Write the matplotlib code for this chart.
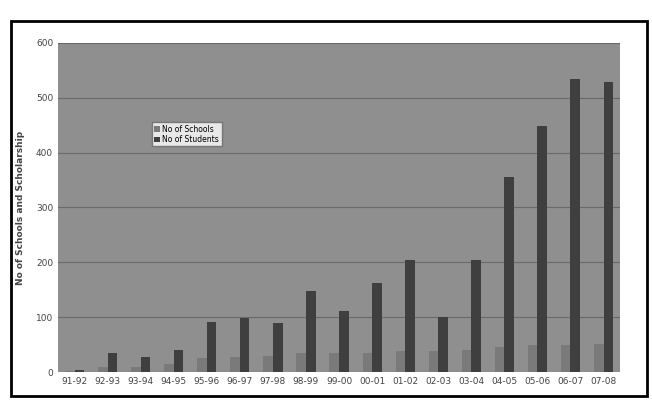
import numpy as np
import matplotlib.pyplot as plt
from matplotlib.patches import Rectangle

# Academic years on the x axis
years = ['91-92', '92-93', '93-94', '94-95', '95-96', '96-97', '97-98', '98-99', '99-00',
         '00-01', '01-02', '02-03', '03-04', '04-05', '05-06', '06-07', '07-08']
# No of Schools (light bars, hard to read on the scan)
schools = [2, 10, 10, 15, 25, 28, 30, 35, 35, 35, 38, 38, 40, 45, 50, 50, 52]
# No of Students (dark bars)
students = [3, 35, 27, 40, 92, 98, 90, 147, 112, 163, 205, 100, 205, 356, 448, 535, 528]

fig = plt.figure(figsize=(6.52, 4.12), dpi=100)
ax = fig.add_axes([0.089, 0.097, 0.862, 0.799])

# Outer chart frame
fig.patches.append(Rectangle((0.017, 0.04), 0.975, 0.91, transform=fig.transFigure,
                             fill=False, edgecolor='black', linewidth=2))

x = np.arange(len(years))
w = 0.29
ax.set_facecolor('#8f8f8f')
ax.bar(x - w/2, schools, w, color='#7a7a7a', label='No of Schools', zorder=3)
ax.bar(x + w/2, students, w, color='#3f3f3f', label='No of Students', zorder=3)

ax.set_xlim(-0.5, len(years) - 0.5)
ax.set_ylim(0, 600)
ax.set_yticks(range(0, 601, 100))
ax.set_xticks(x)
ax.set_xticklabels(years, fontsize=6.5, color='#444444')
ax.tick_params(axis='y', labelsize=6.5, colors='#444444', length=0)
ax.tick_params(axis='x', length=0)
ax.grid(axis='y', color='#6a6a6a', linewidth=0.8, zorder=1)
for s in ax.spines.values():
    s.set_visible(False)

ax.set_ylabel('No of Schools and Scholarship', fontsize=6.5, color='#444444',
              fontweight='bold', labelpad=8)

leg = ax.legend(loc='upper left', bbox_to_anchor=(0.16, 0.77), fontsize=5.5,
                frameon=True, fancybox=False, handlelength=0.8, handleheight=0.8,
                borderpad=0.3, labelspacing=0.2, handletextpad=0.3)
leg.get_frame().set_facecolor('white')
leg.get_frame().set_edgecolor('#666666')

plt.savefig('out.png', dpi=100)
